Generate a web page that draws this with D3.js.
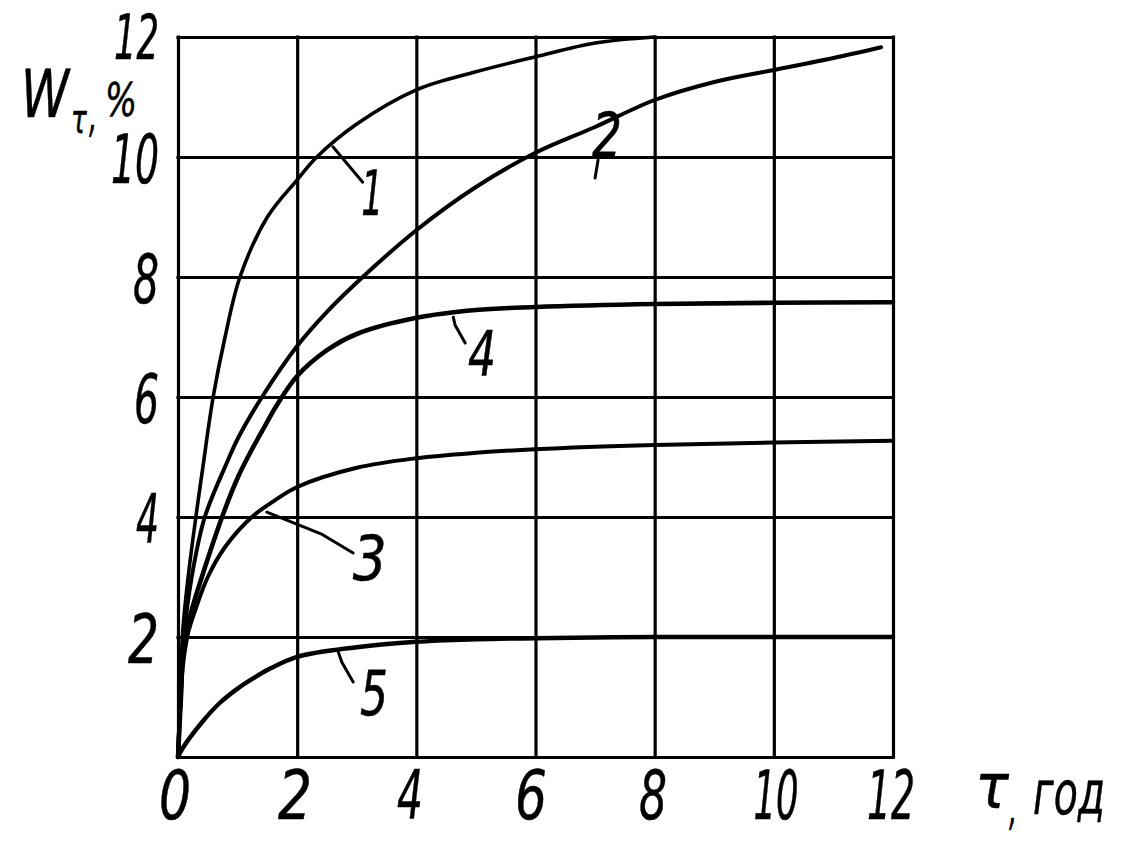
<!DOCTYPE html>
<html><head><meta charset="utf-8">
<script src="https://cdn.jsdelivr.net/npm/d3@7"></script>
<style>body{margin:0;background:#fff}</style>
</head><body>
<svg id="c" width="1124" height="860" xmlns="http://www.w3.org/2000/svg"></svg>
<script>
// ---- data ----
const xTicks = [0, 2, 4, 6, 8, 10, 12];
const yTicks = [2, 4, 6, 8, 10, 12];
const xTickLabels = ["0", "2", "4", "6", "8", "10", "12"];
const yTickLabels = ["2", "4", "6", "8", "10", "12"];

const t1 = [0, 0.04, 0.08, 0.17, 0.3, 0.42, 0.59, 0.79, 1.04, 1.5, 2.0, 2.33, 3, 4, 5, 6, 7, 8];
const w1 = [0, 1.2, 2.1, 3.0, 4.0, 4.85, 6.0, 7.0, 8.0, 9.0, 9.62, 10.0, 10.55, 11.12, 11.42, 11.67, 11.9, 12.0];

const t2 = [0, 0.05, 0.1, 0.23, 0.45, 0.84, 1.0, 1.41, 2, 2.5, 3.1, 4, 5, 6, 7, 8, 9, 10, 11, 11.8];
const w2 = [0, 1.1, 2.0, 3.0, 4.0, 4.95, 5.3, 6.0, 6.85, 7.42, 8.0, 8.78, 9.5, 10.07, 10.5, 10.95, 11.25, 11.45, 11.65, 11.83];

const t3 = [0, 0.04, 0.08, 0.17, 0.29, 0.5, 0.79, 1.24, 1.63, 2, 3, 4, 5, 6, 8, 10, 12];
const w3 = [0, 0.9, 1.5, 2.07, 2.45, 3.0, 3.5, 4.0, 4.28, 4.5, 4.82, 4.98, 5.07, 5.13, 5.2, 5.24, 5.27];

const t4 = [0, 0.05, 0.1, 0.23, 0.4, 0.74, 1.0, 1.2, 1.45, 1.65, 2, 2.5, 3, 4, 5, 6, 8, 10, 12];
const w4 = [0, 1.0, 1.9, 2.45, 3.0, 4.0, 4.65, 5.05, 5.5, 5.85, 6.35, 6.78, 7.05, 7.32, 7.45, 7.5, 7.55, 7.57, 7.58];

const t5 = [0, 0.08, 0.42, 0.7, 1.0, 1.26, 1.54, 2.0, 3, 4, 5, 6, 8, 10, 12];
const w5 = [0, 0.15, 0.6, 0.9, 1.14, 1.31, 1.47, 1.67, 1.83, 1.92, 1.96, 1.98, 2.0, 2.0, 2.0];

const curveNames = ["1", "2", "3", "4", "5"];
// label anchor and leader line, in data units (t, W)
const labelAt = [[3.26, 9.40], [7.20, 10.38], [3.22, 3.32], [5.10, 6.73], [3.29, 1.08]];
const leaders = [
  [[2.60, 10.17], [3.10, 9.58]],
  [[7.05, 9.95], [7.00, 9.65]],
  [[1.49, 4.08], [2.40, 3.72], [2.94, 3.40]],
  [[4.62, 7.33], [4.65, 7.20], [4.82, 6.90]],
  [[2.69, 1.75], [2.75, 1.58], [2.94, 1.25]]
];

const yTitleMain = "W";
const yTitleSub = "τ";
const xTitle = "τ, год";

// ---- drawing ----
const svg = d3.select("#c");
const x = d3.scaleLinear().domain([0, 12]).range([178, 893]);
const y = d3.scaleLinear().domain([0, 12]).range([757, 37]);
const FONT = "'Liberation Sans Narrow','DejaVu Sans Condensed','DejaVu Sans',sans-serif";

// grid via axes
const gx = svg.append("g").attr("transform", `translate(0,${y(0)})`)
  .call(d3.axisBottom(x).tickValues(xTicks).tickSize(-(y(0) - y(12))).tickFormat(""));
const gy = svg.append("g").attr("transform", `translate(${x(0)},0)`)
  .call(d3.axisLeft(y).tickValues([0].concat(yTicks)).tickSize(-(x(12) - x(0))).tickFormat(""));
[gx, gy].forEach(g => {
  g.select(".domain").remove();
  g.selectAll(".tick line").attr("stroke", "#000").attr("stroke-width", 3.2).attr("stroke-linecap", "square");
});

// curves
const series = [[t1, w1], [t2, w2], [t3, w3], [t4, w4], [t5, w5]];
const widths = [3.6, 4.0, 4.0, 4.6, 4.4];
const line = d3.line().x(d => x(d[0])).y(d => y(d[1])).curve(d3.curveCatmullRom.alpha(0.5));
series.forEach((s, i) => {
  const pts = s[0].map((t, k) => [t, s[1][k]]);
  svg.append("path").attr("d", line(pts)).attr("fill", "none")
    .attr("stroke", "#000").attr("stroke-width", widths[i]).attr("stroke-linecap", "round");
});

// leader lines
const lline = d3.line().x(d => x(d[0])).y(d => y(d[1]));
leaders.forEach(l => {
  svg.append("path").attr("d", lline(l)).attr("fill", "none")
    .attr("stroke", "#000").attr("stroke-width", 3).attr("stroke-linecap", "round").attr("stroke-linejoin", "round");
});

// text helper: fit to width, centered at (cx, cy)
function fitText(str, cx, cy, targetW, size, opts = {}) {
  const g = svg.append("g");
  const t = g.append("text").text(str)
    .attr("font-family", FONT).attr("font-style", "italic")
    .attr("font-size", size).attr("text-anchor", "middle")
    .attr("fill", "#000").attr("stroke", "#000").attr("stroke-width", opts.sw || 0.5)
    .attr("stroke-linejoin", "round");
  const bb = t.node().getBBox();
  const sx = targetW / bb.width;
  const base = cy + size * 0.36;
  g.attr("transform", `translate(${cx},${base}) scale(${sx},1)`);
  return g;
}

// y tick labels (right edge ~159)
const yW = { "2": 31, "4": 23, "6": 25, "8": 26, "10": 48, "12": 45 };
yTicks.forEach((v, i) => {
  const s = yTickLabels[i];
  const w = yW[s];
  const top = (v === 12);
  fitText(s, 159 - w / 2, top ? y(v) : y(v) + 2, w, top ? 62 : 68);
});
// x tick labels
const xC = [175, 295, 410, 531, 653, 776, 891];
const xW = [32, 34, 26, 32, 28, 45, 48];
xTicks.forEach((v, i) => {
  fitText(xTickLabels[i], xC[i], 795, xW[i], 68);
});

// curve labels
const lW = [22, 30, 34, 28, 28];
curveNames.forEach((n, i) => {
  fitText(n, x(labelAt[i][0]), y(labelAt[i][1]), lW[i], 62);
});

// y title: W_τ, %
fitText(yTitleMain, 45, 93, 50, 66);
fitText(yTitleSub, 79, 119, 16, 40, { sw: 0.5 });
fitText(",", 93, 113, 8, 50);
fitText("%", 121, 99, 32, 46);

// x title: τ, год
fitText(xTitle.slice(0, 1), 992, 786, 34, 62);
fitText(",", 1013, 806, 8, 50);
fitText(xTitle.slice(3), 1069, 792, 72, 60);
</script>
</body></html>
